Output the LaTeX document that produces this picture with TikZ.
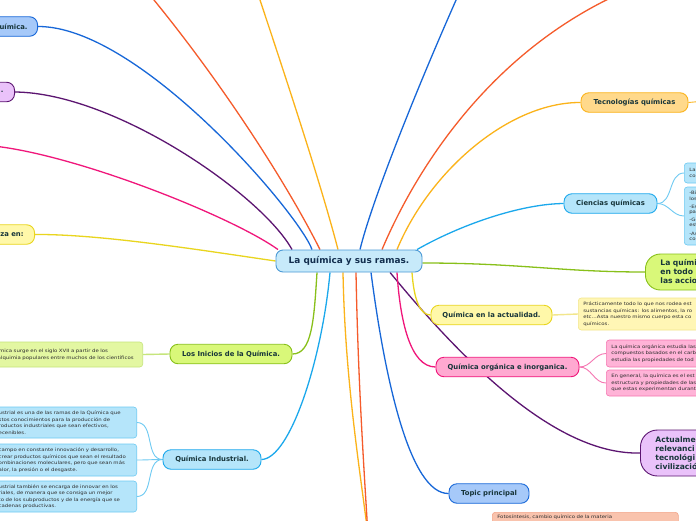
\documentclass[tikz,border=0pt]{standalone}
\usepackage{fontspec}
\setmainfont{DejaVu Sans}
\newfontfamily\notefont[FakeStretch=1.2]{DejaVu Sans}
\usetikzlibrary{backgrounds}

\definecolor{rootfill}{HTML}{C7EAFA}
\definecolor{rootline}{HTML}{4C9AD6}
\definecolor{rootink}{HTML}{132F4F}
\definecolor{ink}{HTML}{17353A}
\definecolor{noteink}{HTML}{2E2E2E}
\definecolor{navy}{HTML}{1767D8}
\definecolor{navyfill}{HTML}{A6C9F9}
\definecolor{plum}{HTML}{5C1571}
\definecolor{plumfill}{HTML}{EAC2FA}
\definecolor{rose}{HTML}{F0177B}
\definecolor{rosefill}{HTML}{FFA9D1}
\definecolor{rosenote}{HTML}{FFB3D7}
\definecolor{roseedge}{HTML}{F577B2}
\definecolor{lemon}{HTML}{E9D51E}
\definecolor{lemonfill}{HTML}{FFF8A9}
\definecolor{lemonnote}{HTML}{FFF6B5}
\definecolor{lemonedge}{HTML}{F2E68C}
\definecolor{amber}{HTML}{FBB31A}
\definecolor{amberfill}{HTML}{FFD98B}
\definecolor{rust}{HTML}{F55B2B}
\definecolor{sky}{HTML}{1BA8EC}
\definecolor{skyfill}{HTML}{B5E5FA}
\definecolor{skyedge}{HTML}{6ECAF2}
\definecolor{lime}{HTML}{88C01A}
\definecolor{limefill}{HTML}{D9F879}
\definecolor{limenote}{HTML}{E3F7A2}
\definecolor{limeedge}{HTML}{C6E57C}
\definecolor{salmon}{HTML}{F9C3AD}
\definecolor{salmonedge}{HTML}{F2A58A}

\tikzset{
  root/.style={draw=rootline, fill=rootfill, rounded corners=7pt, line width=0.9pt,
    text=rootink, font=\fontsize{8.9}{10}\selectfont\bfseries,
    minimum width=146pt, minimum height=22pt, inner sep=0pt},
  topic/.style={rounded corners=8pt, line width=0.9pt, text=ink,
    font=\fontsize{6.85}{8}\selectfont\bfseries, minimum height=19.5pt, inner sep=0pt},
  bigtopic/.style={rounded corners=15pt, line width=0.9pt, text=ink,
    font=\fontsize{7.6}{9}\selectfont\bfseries, align=left, text width=60pt,
    inner xsep=15pt, inner ysep=0pt, anchor=west},
  note/.style={rounded corners=3pt, line width=0.6pt, text=noteink,
    font=\notefont\fontsize{4.5}{6.5}\selectfont, align=left, inner xsep=5pt, inner ysep=0pt},
  branch/.style={line width=1.3pt},
  twig/.style={line width=0.9pt}
}

\begin{document}
\begin{tikzpicture}[x=1pt,y=-1pt]
  \useasboundingbox (0,0) rectangle (696,520);

  % centre
  \node[root] (root) at (349,261) {La química y sus ramas.};

  % left side
  \node[topic, draw=navy, fill=navyfill, anchor=east, text width=60pt, align=right, inner xsep=10pt] (hist) at (38,26.5) {uímica.};
  \node[topic, draw=plum, fill=plumfill, anchor=east, text width=40pt, align=right, inner xsep=11pt] (sig) at (15,92) {.};
  \node[topic, draw=lemon, fill=lemonfill, anchor=east, text width=60pt, align=right, inner xsep=11pt] (uso) at (35,234.5) {za en:};
  \node[topic, draw=lime, fill=limefill, minimum width=122pt] (inicios) at (231,354) {Los Inicios de la Química.};
  \node[topic, draw=sky, fill=skyfill, minimum width=98pt] (indus) at (212,459.5) {Química Industrial.};

  \node[note, draw=limeedge, fill=limenote, anchor=east, text width=141pt, inner xsep=4pt, minimum height=25pt] (inin) at (143,354.5)
    {ímica surge en el siglo XVII a partir de los\\alquimia populares entre muchos de los científicos};
  \node[note, draw=skyedge, fill=skyfill, anchor=east, text width=133pt, minimum height=31pt] (ind1) at (137,422.5)
    {ustrial es una de las ramas de la Química que\\stos conocimientos para la producción de\\roductos industriales que sean efectivos,\\ecenibles.};
  \node[note, draw=skyedge, fill=skyfill, anchor=east, text width=133pt, minimum height=32pt] (ind2) at (137,460)
    {campo en constante innovación y desarrollo,\\crear productos químicos que sean el resultado\\ombinaciones moleculares, pero que sean más\\alor, la presión o el desgaste.};
  \node[note, draw=skyedge, fill=skyfill, anchor=east, text width=133pt, minimum height=31pt] (ind3) at (137,496.5)
    {ustrial también se encarga de innovar en los\\riales, de manera que se consiga un mejor\\to de los subproductos y de la energía que se\\cadenas productivas.};

  % right side
  \node[topic, draw=amber, fill=amberfill, minimum width=107pt] (tec) at (634.5,102.5) {Tecnologías químicas};
  \node[topic, draw=sky, fill=skyfill, minimum width=93pt] (cien) at (610.5,203.5) {Ciencias químicas};
  \node[bigtopic, draw=lime, fill=limefill, minimum height=36pt] (hoy) at (645,272) {La químic\\en todo l\\las accion};
  \node[topic, draw=lemon, fill=lemonfill, minimum width=121pt] (actual) at (491.5,315) {Química en la actualidad.};
  \node[topic, draw=rose, fill=rosefill, minimum width=143pt] (org) at (507.5,367) {Química orgánica e inorganica.};
  \node[bigtopic, draw=plum, fill=plumfill, minimum height=46pt, rounded corners=17pt] (relev) at (640,453)
    {Actualme\\relevanci\\tecnológi\\civilizació};
  \node[topic, draw=navy, fill=navyfill, minimum width=80pt] (principal) at (489,493.5) {Topic principal};

  \node[note, draw=skyedge, fill=skyfill, anchor=west, text width=40pt, minimum height=20pt,
    font=\notefont\fontsize{4.5}{5.5}\selectfont] (cien1) at (684,173) {La\\cor};
  \node[note, draw=skyedge, fill=skyfill, anchor=west, text width=40pt, minimum height=58pt,
    font=\notefont\fontsize{4.5}{5.2}\selectfont] (cien2) at (684,216)
    {-Bi\\los\\[3pt]-Es\\par\\[3pt]-Ge\\est\\[3pt]-As\\cor};
  \node[note, draw=lemonedge, fill=lemonnote, anchor=west, text width=140pt, minimum height=32pt] (actn) at (578,314)
    {Prácticamente todo lo que nos rodea est\\sustancias químicas: los alimentos, la ro\\etc...Asta nuestro mismo cuerpo esta co\\químicos.};
  \node[note, draw=roseedge, fill=rosenote, anchor=west, text width=100pt, minimum height=27pt] (org1) at (606,353.5)
    {La química orgánica estudia las\\compuestos basados en el carb\\estudia las propiedades de tod};
  \node[note, draw=roseedge, fill=rosenote, anchor=west, text width=100pt, minimum height=26pt] (org2) at (606,383)
    {En general, la química es el est\\estructura y propiedades de las\\que estas experimentan durant};
  \node[note, draw=salmonedge, fill=salmon, anchor=north west, text width=176pt, inner ysep=3pt, text depth=20pt] (foto) at (492,512)
    {Fotosíntesis, cambio químico de la materia};

  % loose ends
  \coordinate (lejos1) at (-20,145);
  \coordinate (lejos2) at (120,-40);
  \coordinate (lejos3) at (250,-30);
  \coordinate (lejos4) at (465,-20);
  \coordinate (lejos5) at (640,-15);
  \coordinate (lejos6) at (368,535);
  \coordinate (lejos7) at (705,101);

  \begin{scope}[on background layer]
    \fill[white] (0,0) rectangle (696,520);
    % main branches
    \draw[branch, navy] ([xshift=-37pt]root.north) .. controls (300,215) and (140,26) .. (hist.east);
    \draw[branch, plum] ([xshift=-57pt]root.north) .. controls (262,195) and (115,93) .. (sig.east);
    \draw[branch, rose] ([xshift=-71pt]root.north) .. controls (230,215) and (60,148) .. (lejos1);
    \draw[branch, lemon] (root.west) .. controls (200,250) and (100,234) .. (uso.east);
    \draw[branch, rust] ([xshift=-29pt]root.north) .. controls (280,170) and (200,50) .. (lejos2);
    \draw[branch, amber] ([xshift=-11pt]root.north) .. controls (320,180) and (280,60) .. (lejos3);
    \draw[branch, navy] ([xshift=11pt]root.north) .. controls (372,200) and (420,80) .. (lejos4);
    \draw[branch, rust] ([xshift=33pt]root.north) .. controls (420,160) and (500,40) .. (lejos5);
    \draw[branch, amber] ([xshift=48pt]root.north) .. controls (430,170) and (510,102) .. (tec.west);
    \draw[branch, sky] ([xshift=68pt]root.north) .. controls (460,225) and (520,204) .. (cien.west);
    \draw[branch, lime] ([yshift=-2pt]root.east) .. controls (520,263) and (560,272) .. (hoy.west);
    \draw[branch, lime] ([xshift=-32pt]root.south) .. controls (314,320) and (312,354) .. (inicios.east);
    \draw[branch, sky] ([xshift=-19pt]root.south) .. controls (322,360) and (290,459) .. (indus.east);
    \draw[branch, amber] ([xshift=-6pt]root.south) .. controls (345,380) and (360,470) .. (lejos6);
    \draw[branch, rust] ([xshift=7pt]root.south) .. controls (358,380) and (364,470) .. (lejos6);
    \draw[branch, navy] ([xshift=22pt]root.south) .. controls (385,380) and (410,494) .. (principal.west);
    \draw[branch, plum] ([xshift=41pt]root.south) .. controls (470,370) and (560,455) .. (relev.west);
    \draw[branch, rose] ([xshift=48pt]root.south) .. controls (400,320) and (410,367) .. (org.west);
    \draw[branch, lemon] ([xshift=63pt]root.south) .. controls (414,300) and (420,315) .. (actual.west);
    % twigs
    \draw[twig, limeedge, line width=1.4pt] (inicios.west) -- (inin.east);
    \draw[twig, skyedge] (indus.west) to[out=180,in=0] (ind1.east);
    \draw[twig, skyedge] (indus.west) to[out=180,in=0] (ind2.east);
    \draw[twig, skyedge] (indus.west) to[out=180,in=0] (ind3.east);
    \draw[twig, skyedge] (cien.east) to[out=0,in=180] (cien1.west);
    \draw[twig, skyedge] (cien.east) to[out=0,in=180] (cien2.west);
    \draw[twig, roseedge] (org.east) to[out=0,in=180] (org1.west);
    \draw[twig, roseedge] (org.east) to[out=0,in=180] (org2.west);
    \draw[twig, lemonedge, line width=1.4pt] (actual.east) -- (actn.west);
    \draw[twig, amber] (tec.east) -- (lejos7);
  \end{scope}
\end{tikzpicture}
\end{document}
